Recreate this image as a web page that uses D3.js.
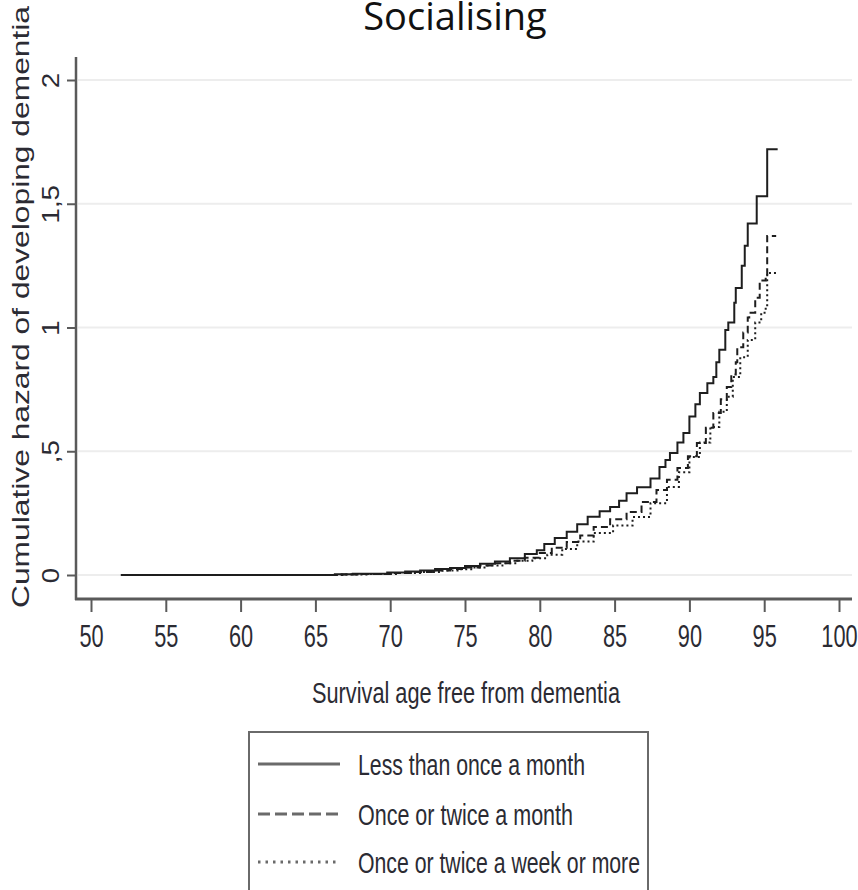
<!DOCTYPE html>
<html>
<head>
<meta charset="utf-8">
<script src="https://cdn.jsdelivr.net/npm/d3@7"></script>
<style>
  html, body { margin: 0; padding: 0; background: #fff; }
  svg { display: block; }
</style>
</head>
<body>
<svg id="chart" width="858" height="890"></svg>
<script>
// ---------------- data ----------------
const titleText = "Socialising";
const yTitleText = "Cumulative hazard of developing dementia";
const xTitleText = "Survival age free from dementia";

const xTicks = [50, 55, 60, 65, 70, 75, 80, 85, 90, 95, 100];
const yTicks = [0, 0.5, 1, 1.5, 2];
const yTickLabels = ["0", ",5", "1", "1,5", "2"];

const seriesNames = ["Less than once a month", "Once or twice a month", "Once or twice a week or more"];

// Less than once a month (solid)
const ageLess = [52.0, 66.3, 67.5, 69.8, 71.0, 72.0, 73.0, 74.0, 75.0, 76.0, 77.0, 78.0, 79.0, 79.8, 80.3, 81.0, 81.8, 82.5, 83.2, 84.0, 84.7, 85.3, 85.8, 86.5, 87.4, 88.0, 88.4, 88.7, 89.2, 89.6, 90.0, 90.4, 90.7, 91.2, 91.6, 91.8, 92.0, 92.4, 92.6, 93.0, 93.1, 93.5, 93.7, 93.9, 94.5, 95.2, 95.9];
const hazLess = [0, 0.003, 0.005, 0.010, 0.014, 0.018, 0.024, 0.028, 0.036, 0.045, 0.055, 0.068, 0.085, 0.100, 0.125, 0.150, 0.175, 0.205, 0.235, 0.258, 0.275, 0.300, 0.330, 0.355, 0.390, 0.436, 0.465, 0.493, 0.535, 0.574, 0.640, 0.690, 0.735, 0.775, 0.800, 0.860, 0.910, 0.990, 1.020, 1.100, 1.160, 1.250, 1.330, 1.420, 1.530, 1.720, 1.720];

// Once or twice a month (dashed)
const ageMonth = [52.0, 66.5, 68.0, 70.0, 71.5, 73.0, 74.0, 75.0, 76.0, 77.0, 78.0, 79.0, 80.0, 80.8, 81.8, 82.7, 83.6, 84.7, 85.8, 86.8, 87.8, 88.5, 89.2, 89.9, 90.5, 91.1, 91.6, 92.1, 92.5, 92.8, 93.1, 93.2, 93.6, 93.9, 94.0, 94.4, 94.7, 95.1, 95.2, 95.8];
const hazMonth = [0, 0.002, 0.004, 0.008, 0.012, 0.018, 0.024, 0.030, 0.038, 0.047, 0.058, 0.070, 0.089, 0.110, 0.133, 0.160, 0.194, 0.225, 0.255, 0.295, 0.343, 0.385, 0.432, 0.480, 0.533, 0.595, 0.655, 0.710, 0.760, 0.810, 0.860, 0.920, 0.980, 1.040, 1.060, 1.120, 1.190, 1.210, 1.370, 1.370];

// Once or twice a week or more (dotted)
const ageWeek = [52.0, 66.8, 68.5, 70.5, 72.0, 73.5, 74.5, 75.5, 76.5, 77.5, 78.5, 79.5, 80.5, 81.5, 82.5, 83.6, 84.9, 86.2, 87.4, 88.5, 89.3, 90.0, 90.7, 91.4, 92.0, 92.5, 92.9, 93.4, 93.9, 94.4, 94.8, 95.1, 95.2, 95.8];
const hazWeek = [0, 0.002, 0.004, 0.008, 0.012, 0.018, 0.023, 0.030, 0.038, 0.047, 0.058, 0.068, 0.082, 0.105, 0.135, 0.170, 0.200, 0.234, 0.290, 0.356, 0.415, 0.477, 0.535, 0.598, 0.660, 0.720, 0.800, 0.880, 0.950, 1.020, 1.060, 1.090, 1.220, 1.220];

// ---------------- drawing ----------------
const svg = d3.select("#chart");
const axisColor = "#5a5a5a";
const textColor = "#2b2b33";
const lineColor = "#1e1e1e";
const FONT = "'Liberation Sans', Arial, sans-serif";

const x = d3.scaleLinear().domain([50, 100]).range([91, 839]);
const y = d3.scaleLinear().domain([0, 2]).range([575, 80]);

const axisX0 = 76, axisY0 = 599, plotRight = 852, plotTop = 57;

// gridlines
svg.append("g").selectAll("line").data(yTicks).join("line")
  .attr("x1", axisX0 + 2).attr("x2", plotRight)
  .attr("y1", d => y(d)).attr("y2", d => y(d))
  .attr("stroke", "#ededed").attr("stroke-width", 2);

// title
svg.append("text").attr("x", 455).attr("y", 30)
  .attr("text-anchor", "middle")
  .style("font-family", "'Open Sans', 'Noto Sans', sans-serif")
  .style("font-size", "38px").attr("fill", "#111")
  .text(titleText);

// x axis
const gx = svg.append("g").attr("transform", `translate(0,${axisY0})`)
  .call(d3.axisBottom(x).tickValues(xTicks).tickFormat(d3.format("d")).tickSize(13).tickPadding(12));
gx.select(".domain").remove();
gx.selectAll(".tick line").attr("stroke", axisColor).attr("stroke-width", 2);
gx.selectAll(".tick text")
  .attr("transform", "scale(0.68,1)")
  .attr("y", 25).attr("dy", "0.71em")
  .style("font-family", FONT).style("font-size", "32px").attr("fill", textColor);
svg.append("line").attr("x1", axisX0 - 1).attr("x2", plotRight)
  .attr("y1", axisY0).attr("y2", axisY0)
  .attr("stroke", axisColor).attr("stroke-width", 3);

// y axis
const gy = svg.append("g").attr("transform", `translate(${axisX0},0)`)
  .call(d3.axisLeft(y).tickValues(yTicks).tickFormat((d, i) => yTickLabels[i]).tickSize(9));
gy.select(".domain").remove();
gy.selectAll(".tick line").attr("stroke", axisColor).attr("stroke-width", 2);
gy.selectAll(".tick text")
  .attr("transform", "rotate(-90) scale(1.2,1)")
  .attr("x", 0).attr("y", -17).attr("dy", 0)
  .attr("text-anchor", "middle")
  .style("font-family", FONT).style("font-size", "23px").attr("fill", textColor);
svg.append("line").attr("x1", axisX0).attr("x2", axisX0)
  .attr("y1", plotTop).attr("y2", axisY0 + 1)
  .attr("stroke", axisColor).attr("stroke-width", 2.5);

// axis titles
svg.append("text")
  .attr("transform", "translate(29,608) rotate(-90)")
  .attr("text-anchor", "start")
  .attr("textLength", 602).attr("lengthAdjust", "spacingAndGlyphs")
  .style("font-family", FONT).style("font-size", "24px").attr("fill", textColor)
  .text(yTitleText);

svg.append("text")
  .attr("x", 312).attr("y", 703)
  .attr("textLength", 308).attr("lengthAdjust", "spacingAndGlyphs")
  .style("font-family", FONT).style("font-size", "30px").attr("fill", textColor)
  .text(xTitleText);

// curves
const series = [
  { ages: ageLess, haz: hazLess, dash: null, width: 2 },
  { ages: ageMonth, haz: hazMonth, dash: "7,4", width: 2 },
  { ages: ageWeek, haz: hazWeek, dash: "2,3", width: 2 }
];
const line = d3.line().x(d => x(d[0])).y(d => y(d[1])).curve(d3.curveStepAfter);
svg.append("g").selectAll("path").data(series).join("path")
  .attr("d", s => line(s.ages.map((a, i) => [a, s.haz[i]])))
  .attr("fill", "none").attr("stroke", lineColor)
  .attr("stroke-width", s => s.width)
  .attr("stroke-dasharray", s => s.dash);

// legend
const leg = svg.append("g");
leg.append("rect").attr("x", 249).attr("y", 732).attr("width", 399).attr("height", 200)
  .attr("fill", "#fff").attr("stroke", "#6a6a6a").attr("stroke-width", 2);
const legRowsY = [764, 814, 862];
const legDash = [null, "12,5", "2.5,5"];
const legWidths = [227, 215, 282];
seriesNames.forEach((name, i) => {
  leg.append("line").attr("x1", 258).attr("x2", 340)
    .attr("y1", legRowsY[i]).attr("y2", legRowsY[i])
    .attr("stroke", "#6a6a6a").attr("stroke-width", 3)
    .attr("stroke-dasharray", legDash[i]);
  leg.append("text").attr("x", 358).attr("y", legRowsY[i] + 11)
    .attr("textLength", legWidths[i]).attr("lengthAdjust", "spacingAndGlyphs")
    .style("font-family", FONT).style("font-size", "30px").attr("fill", textColor)
    .text(name);
});
</script>
</body>
</html>
